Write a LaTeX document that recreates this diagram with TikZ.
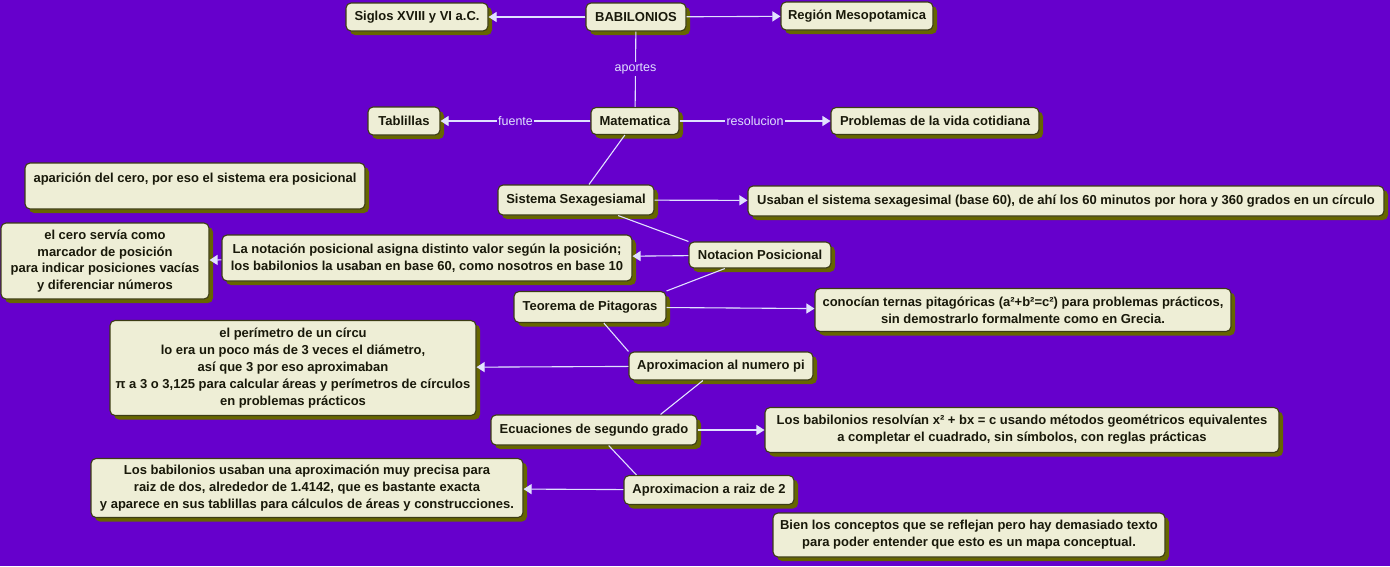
\documentclass[tikz,border=0pt]{standalone}
\usepackage{fontspec}
\setmainfont{Liberation Sans}
\usetikzlibrary{shadows,arrows.meta}
\definecolor{bg}{RGB}{102,0,204}
\definecolor{boxfill}{RGB}{238,238,214}
\definecolor{boxline}{RGB}{60,60,20}
\definecolor{shadowc}{RGB}{102,102,0}
\definecolor{linec}{RGB}{225,225,255}
\definecolor{txt}{RGB}{25,25,10}
\tikzset{
  concept/.style={draw=boxline, line width=1.1pt, fill=boxfill, rounded corners=5pt,
    drop shadow={shadow xshift=4pt, shadow yshift=-4pt, fill=shadowc, opacity=1},
    align=center, inner sep=0pt, text=txt,
    font=\bfseries\fontsize{13}{16.8}\selectfont},
  conn/.style={draw=linec, line width=1.1pt},
  arr/.style={conn, -{Triangle[length=8pt,width=10pt]}, fill=linec},
  lbl/.style={fill=bg, text=linec, inner sep=1.5pt, font=\fontsize{12.5}{14}\selectfont}
}
\newcommand{\cbox}[6]{\node[concept, minimum width=#4pt, minimum height=#5pt] (#1) at (#2,#3) {#6};}
\begin{document}
\begin{tikzpicture}[x=1pt,y=-1pt]
\fill[bg] (0,0) rectangle (1390,566);
\useasboundingbox (0,0) rectangle (1390,566);

\cbox{bab}{636}{17}{100}{28}{BABILONIOS}
\cbox{sig}{417}{17}{142}{28}{Siglos XVIII y VI a.C.}
\cbox{reg}{857}{16}{152}{28}{Región Mesopotamica}
\cbox{mat}{635}{121}{88}{27}{Matematica}
\cbox{tab}{404}{121}{72}{28}{Tablillas}
\cbox{prob}{935}{121}{208}{27}{Problemas de la vida cotidiana}
\cbox{apar}{195}{186}{340}{46}{aparición del cero, por eso el sistema era posicional\\\mbox{}}
\cbox{sis}{576}{200}{156}{30}{Sistema Sexagesiamal}
\cbox{usa}{1066}{201}{636}{30}{Usaban el sistema sexagesimal (base 60), de ahí los 60 minutos por hora y 360 grados en un círculo}
\cbox{cero}{105}{261}{208}{76}{el cero servía como\\marcador de posición\\para indicar posiciones vacías\\y diferenciar números}
\cbox{lanot}{427}{258}{410}{46}{La notación posicional asigna distinto valor según la posición;\\los babilonios la usaban en base 60, como nosotros en base 10}
\cbox{notac}{760}{255}{142}{26}{Notacion Posicional}
\cbox{teo}{590}{307}{152}{31}{Teorema de Pitagoras}
\cbox{con}{1023}{310}{416}{43}{conocían ternas pitagóricas (a²+b²=c²) para problemas prácticos,\\sin demostrarlo formalmente como en Grecia.}
\cbox{per}{293}{368}{366}{95}{el perímetro de un círcu\\lo era un poco más de 3 veces el diámetro,\\así que 3 por eso aproximaban\\π a 3 o 3,125 para calcular áreas y perímetros de círculos\\en problemas prácticos}
\cbox{api}{721}{366}{184}{28}{Aproximacion al numero pi}
\cbox{ecu}{594}{430}{206}{30}{Ecuaciones de segundo grado}
\cbox{res}{1022}{430}{514}{45}{Los babilonios resolvían x² + bx = c usando métodos geométricos equivalentes\\a completar el cuadrado, sin símbolos, con reglas prácticas}
\cbox{usa2}{307}{488}{432}{59}{Los babilonios usaban una aproximación muy precisa para\\raiz de dos, alrededor de 1.4142, que es bastante exacta\\y aparece en sus tablillas para cálculos de áreas y construcciones.}
\cbox{raiz}{709}{490}{170}{29}{Aproximacion a raiz de 2}
\cbox{bien}{969}{535}{392}{44}{Bien los conceptos que se reflejan pero hay demasiado texto\\para poder entender que esto es un mapa conceptual.}

\draw[arr] (bab) -- (sig);
\draw[arr] (bab) -- (reg);
\draw[conn] (bab) -- node[lbl]{aportes} (mat);
\draw[arr] (mat) -- node[lbl]{fuente} (tab);
\draw[arr] (mat) -- node[lbl]{resolucion} (prob);
\draw[conn] (mat) -- ([xshift=13pt]sis.north);
\draw[arr] (sis) -- (usa);
\draw[conn] (sis) -- (notac.north west);
\draw[arr] (notac) -- (lanot);
\draw[arr] (lanot) -- (cero);
\draw[conn] (notac) -- (teo.north east);
\draw[arr] (teo) -- (con);
\draw[conn] (teo) -- (api.north west);
\draw[arr] (api) -- (per);
\draw[conn] (api) -- ([xshift=-37pt]ecu.north east);
\draw[arr] (ecu) -- (res);
\draw[conn] (ecu) -- ([xshift=13pt]raiz.north west);
\draw[arr] (raiz) -- (usa2);
\end{tikzpicture}
\end{document}
